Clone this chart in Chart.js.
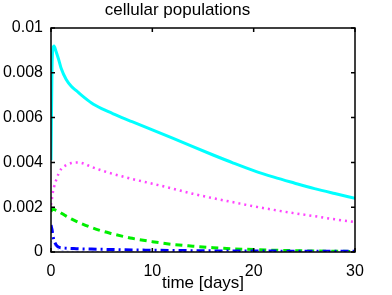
<!DOCTYPE html>
<html>
<head>
<meta charset="utf-8">
<script src="https://cdn.jsdelivr.net/npm/chart.js@4/dist/chart.umd.min.js"></script>
<style>
html,body{margin:0;padding:0;background:#fff;}
canvas{display:block;}
</style>
</head>
<body>
<canvas id="c" width="392" height="295"></canvas>
<script>
const time = [0, 0.1, 0.2, 0.3, 0.5, 0.75, 1, 1.5, 2, 2.5, 3, 4, 5, 6, 7, 8, 10, 12, 14, 16, 18, 20, 22, 24, 26, 28, 30];
const cyanVals = [0.0041, 0.0082, 0.0091, 0.0092, 0.00895, 0.0086, 0.0082, 0.0077, 0.0074, 0.0072, 0.0070, 0.00665, 0.0064, 0.0062, 0.0060, 0.00582, 0.00545, 0.00508, 0.0047, 0.00433, 0.00397, 0.00363, 0.00334, 0.00308, 0.00283, 0.00261, 0.0024];
const magentaVals = [0.0021, 0.0024, 0.0027, 0.0029, 0.0032, 0.0035, 0.0037, 0.00388, 0.00397, 0.0040, 0.00398, 0.0038, 0.00364, 0.0035, 0.00338, 0.00326, 0.00305, 0.00283, 0.0026, 0.0024, 0.00222, 0.00204, 0.00188, 0.00173, 0.0016, 0.00146, 0.00134];
const greenVals = [0.0018, 0.0019, 0.0019, 0.0019, 0.00186, 0.00181, 0.00174, 0.0016, 0.00148, 0.00137, 0.00127, 0.00109, 0.00094, 0.00082, 0.00071, 0.00061, 0.00046, 0.00034, 0.00026, 0.00019, 0.00014, 0.00011, 0.00008, 0.00006, 0.000045, 0.000035, 0.000025];
const blueVals = [0.0012, 0.001, 0.0007, 0.00052, 0.00032, 0.00022, 0.00019, 0.00017, 0.00016, 0.00015, 0.00014, 0.00013, 0.00012, 0.00011, 0.0001, 0.00009, 0.00008, 0.00007, 0.00006, 0.00005, 0.00005, 0.00004, 0.00004, 0.00003, 0.00003, 0.00003, 0.00003];
const faintVals = [0.0005, 0.00045, 0.0004, 0.00033, 0.0002, 0.0001, 0.00006, 0.00004, 0.00003, 0.00003, 0.00002, 0.00002, 0.00002, 0.00002, 0.00002, 0.00002, 0.00001, 0.00001, 0.00001, 0.00001, 0.00001, 0.00001, 0.00001, 0.00001, 0.00001, 0.00001, 0.00001];
const xTicks = [0, 10, 20, 30];
const yTickLabels = ['0', '0.002', '0.004', '0.006', '0.008', '0.01'];

function pts(vals){ return time.map((t,i)=>({x:t, y:vals[i]})); }

const framePlugin = {
  id: 'frame',
  afterDatasetsDraw(chart){
    const {ctx, chartArea:a, scales:{x, y}} = chart;
    ctx.save();
    ctx.strokeStyle = '#000';
    ctx.lineWidth = 1.5;
    ctx.strokeRect(a.left, a.top, a.right - a.left, a.bottom - a.top);
    const L = 4;
    ctx.beginPath();
    x.ticks.forEach(t=>{
      const px = x.getPixelForValue(t.value);
      ctx.moveTo(px, a.bottom); ctx.lineTo(px, a.bottom - L);
      ctx.moveTo(px, a.top); ctx.lineTo(px, a.top + L);
    });
    y.ticks.forEach(t=>{
      const py = y.getPixelForValue(t.value);
      ctx.moveTo(a.left, py); ctx.lineTo(a.left + L, py);
      ctx.moveTo(a.right, py); ctx.lineTo(a.right - L, py);
    });
    ctx.stroke();
    ctx.restore();
  }
};

const font = {family: '"Liberation Sans", Arial, sans-serif', size: 16, weight: 'normal'};
const titleFont = {family: '"Liberation Sans", Arial, sans-serif', size: 17, weight: 'normal'};

new Chart(document.getElementById('c'), {
  type: 'line',
  data: {
    datasets: [
      {data: pts(faintVals), borderColor: '#a0a0ff', borderWidth: 1, borderDash: [2,3]},
      {data: pts(blueVals), borderColor: '#0000ff', borderWidth: 3, borderDash: [8,4,2,4]},
      {data: pts(greenVals), borderColor: '#00ee00', borderWidth: 3, borderDash: [7,5]},
      {data: pts(magentaVals), borderColor: '#ff44ff', borderWidth: 2.5, borderDash: [2,4]},
      {data: pts(cyanVals), borderColor: '#00ffff', borderWidth: 3}
    ]
  },
  options: {
    responsive: false,
    animation: false,
    layout: {padding: {left: 0, right: 37, top: 0, bottom: 0}},
    elements: {point: {radius: 0}, line: {cubicInterpolationMode: 'monotone', fill: false}},
    plugins: {
      legend: {display: false},
      tooltip: {enabled: false},
      title: {display: true, text: 'cellular populations', color: '#000', font: titleFont, padding: {top: 0, bottom: 7.6}}
    },
    scales: {
      x: {
        type: 'linear', min: 0, max: 30,
        afterBuildTicks: s => { s.ticks = xTicks.map(v=>({value:v})); },
        afterFit: s => { s.height = 43; },
        ticks: {color: '#000', font: font, padding: 10, maxRotation: 0},
        grid: {display: false, drawTicks: false},
        border: {display: false},
        title: {display: true, text: 'time [days]', color: '#000', font: titleFont, padding: {top: 0, bottom: 1}}
      },
      y: {
        type: 'linear', min: 0, max: 0.01,
        ticks: {stepSize: 0.002, color: '#000', font: font, padding: 8,
          callback: (v, i) => yTickLabels[i]},
        afterFit: s => { s.width = 51; },
        grid: {display: false, drawTicks: false},
        border: {display: false}
      }
    }
  },
  plugins: [framePlugin]
});
</script>
</body>
</html>
